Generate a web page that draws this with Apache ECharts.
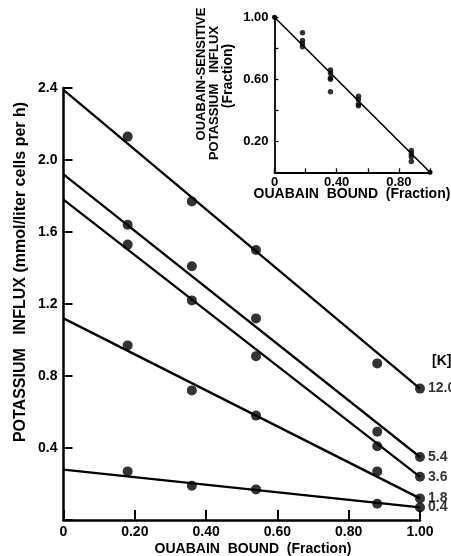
<!DOCTYPE html>
<html>
<head>
<meta charset="utf-8">
<script src="https://cdn.jsdelivr.net/npm/echarts@6/dist/echarts.min.js"></script>
<style>
  html, body { margin: 0; padding: 0; background: #fff; }
  #chart { width: 451px; height: 556px; }
</style>
</head>
<body>
<div id="chart"></div>
<script>
// Fraction of ouabain bound at which influx was measured
const ouabainBound = [0.18, 0.36, 0.54, 0.88, 1.00];
// External potassium concentration for each curve
const kLabels = ['12.0', '5.4', '3.6', '1.8', '0.4'];
// Potassium influx (mmol/liter cells per h) at each [K]
const influxK120 = [2.13, 1.77, 1.50, 0.87, 0.73];
const influxK54 = [1.64, 1.41, 1.12, 0.49, 0.35];
const influxK36 = [1.53, 1.22, 0.91, 0.41, 0.24];
const influxK18 = [0.97, 0.72, 0.58, 0.27, 0.12];
const influxK04 = [0.27, 0.19, 0.17, 0.09, 0.07];
// Fitted lines: influx at zero and at full ouabain binding
const fitAtZero = [2.39, 1.92, 1.78, 1.12, 0.28];
const fitAtFull = [0.73, 0.35, 0.24, 0.12, 0.07];

// Tick labels
const mainXTicks = ['0', '0.20', '0.40', '0.60', '0.80', '1.00'];
const mainYTicks = ['', '0.4', '0.8', '1.2', '1.6', '2.0', '2.4'];
const insetXTicks = ['0', '', '0.40', '', '0.80', ''];
const insetYTicks = ['', '0.20', '', '0.60', '', '1.00'];

// Inset: ouabain-sensitive influx (fraction) grouped by ouabain bound
const insetBound = [0.18, 0.36, 0.54, 0.88];
const insetFrac018 = [0.90, 0.85, 0.83, 0.81];
const insetFrac036 = [0.66, 0.64, 0.61, 0.60, 0.52];
const insetFrac054 = [0.49, 0.47, 0.44, 0.43];
const insetFrac088 = [0.14, 0.12, 0.10, 0.07];
const insetLineX = [0, 1];
const insetLineY = [1, 0];

const FONT = '"Liberation Sans", Arial, sans-serif';
const INK = '#000';

const influxSets = [influxK120, influxK54, influxK36, influxK18, influxK04];

const series = [];
influxSets.forEach(function (vals, i) {
  series.push({
    type: 'line',
    xAxisIndex: 0, yAxisIndex: 0,
    data: [[0, fitAtZero[i]], [1, fitAtFull[i]]],
    symbol: 'none',
    clip: false,
    lineStyle: { color: INK, width: 2.3 },
    silent: true, animation: false
  });
  series.push({
    type: 'scatter',
    xAxisIndex: 0, yAxisIndex: 0,
    data: vals.map(function (v, j) { return [ouabainBound[j], v]; }),
    symbol: 'circle',
    symbolSize: 10,
    clip: false,
    itemStyle: { color: INK },
    label: {
      show: true,
      position: 'right',
      distance: 3,
      color: INK,
      fontFamily: FONT,
      fontWeight: 'bold',
      fontSize: 14,
      formatter: function (p) { return p.dataIndex === vals.length - 1 ? kLabels[i] : ''; }
    },
    animation: false
  });
});

// Inset series
series.push({
  type: 'line',
  xAxisIndex: 1, yAxisIndex: 1,
  data: insetLineX.map(function (x, j) { return [x, insetLineY[j]]; }),
  symbol: 'circle', symbolSize: 5, showSymbol: true,
  clip: false,
  itemStyle: { color: INK },
  lineStyle: { color: INK, width: 1.6 },
  animation: false
});
[insetFrac018, insetFrac036, insetFrac054, insetFrac088].forEach(function (vals, i) {
  series.push({
    type: 'scatter',
    xAxisIndex: 1, yAxisIndex: 1,
    data: vals.map(function (v) { return [insetBound[i], v]; }),
    symbol: 'circle', symbolSize: 5.5,
    clip: false,
    itemStyle: { color: INK },
    animation: false
  });
});

function axisText(size) {
  return { color: INK, fontFamily: FONT, fontWeight: 'bold', fontSize: size };
}

const option = {
  backgroundColor: '#fff',
  animation: false,
  grid: [
    { left: 63.5, right: 31, top: 88, bottom: 36, outerBoundsMode: 'none' },
    { left: 274.5, right: 21, top: 17.3, bottom: 383.7, outerBoundsMode: 'none' }
  ],
  xAxis: [
    {
      gridIndex: 0, type: 'value', min: 0, max: 1, interval: 0.2,
      axisLine: { show: true, onZero: false, lineStyle: { color: INK, width: 2.5 } },
      axisTick: { show: true, inside: true, length: 10, lineStyle: { color: INK, width: 2 } },
      splitLine: { show: false },
      axisLabel: Object.assign(axisText(14), {
        margin: 5,
        formatter: function (v) { return mainXTicks[Math.round(v / 0.2)]; }
      })
    },
    {
      gridIndex: 1, type: 'value', min: 0, max: 1, interval: 0.2,
      axisLine: { show: true, onZero: false, lineStyle: { color: INK, width: 1.8 } },
      axisTick: { show: true, inside: true, length: 4, lineStyle: { color: INK, width: 1.3 } },
      splitLine: { show: false },
      axisLabel: Object.assign(axisText(13), {
        margin: 4,
        formatter: function (v) { return insetXTicks[Math.round(v / 0.2)]; }
      })
    }
  ],
  yAxis: [
    {
      gridIndex: 0, type: 'value', min: 0, max: 2.4, interval: 0.4,
      axisLine: { show: true, onZero: false, lineStyle: { color: INK, width: 2.5 } },
      axisTick: { show: true, inside: true, length: 9, lineStyle: { color: INK, width: 2 } },
      splitLine: { show: false },
      axisLabel: Object.assign(axisText(14), {
        margin: 6,
        formatter: function (v) { return mainYTicks[Math.round(v / 0.4)]; }
      })
    },
    {
      gridIndex: 1, type: 'value', min: 0, max: 1, interval: 0.2,
      axisLine: { show: true, onZero: false, lineStyle: { color: INK, width: 1.8 } },
      axisTick: { show: true, inside: true, length: 4, lineStyle: { color: INK, width: 1.3 } },
      splitLine: { show: false },
      axisLabel: Object.assign(axisText(13), {
        margin: 6,
        formatter: function (v) { return insetYTicks[Math.round(v / 0.2)]; }
      })
    }
  ],
  graphic: [
    { type: 'text', x: 21, y: 272, rotation: Math.PI / 2,
      style: { text: 'POTASSIUM   INFLUX (mmol/liter cells per h)', fill: INK,
        font: 'bold 16px ' + FONT, align: 'center', verticalAlign: 'middle' } },
    { type: 'text', x: 253, y: 549,
      style: { text: 'OUABAIN  BOUND  (Fraction)', fill: INK,
        font: 'bold 14px ' + FONT, align: 'center', verticalAlign: 'middle' } },
    { type: 'text', x: 432, y: 361,
      style: { text: '[K]', fill: INK,
        font: 'bold 14px ' + FONT, align: 'left', verticalAlign: 'middle' } },
    { type: 'text', x: 201, y: 74, rotation: Math.PI / 2,
      style: { text: 'OUABAIN-SENSITIVE', fill: INK,
        font: 'bold 13px ' + FONT, align: 'center', verticalAlign: 'middle' } },
    { type: 'text', x: 214, y: 93, rotation: Math.PI / 2,
      style: { text: 'POTASSIUM   INFLUX', fill: INK,
        font: 'bold 13px ' + FONT, align: 'center', verticalAlign: 'middle' } },
    { type: 'text', x: 228, y: 76, rotation: Math.PI / 2,
      style: { text: '(Fraction)', fill: INK,
        font: 'bold 14px ' + FONT, align: 'center', verticalAlign: 'middle' } },
    { type: 'text', x: 352, y: 194,
      style: { text: 'OUABAIN  BOUND  (Fraction)', fill: INK,
        font: 'bold 14px ' + FONT, align: 'center', verticalAlign: 'middle' } }
  ],
  series: series
};

const chart = echarts.init(document.getElementById('chart'), null, { renderer: 'canvas' });
chart.setOption(option);
</script>
</body>
</html>
